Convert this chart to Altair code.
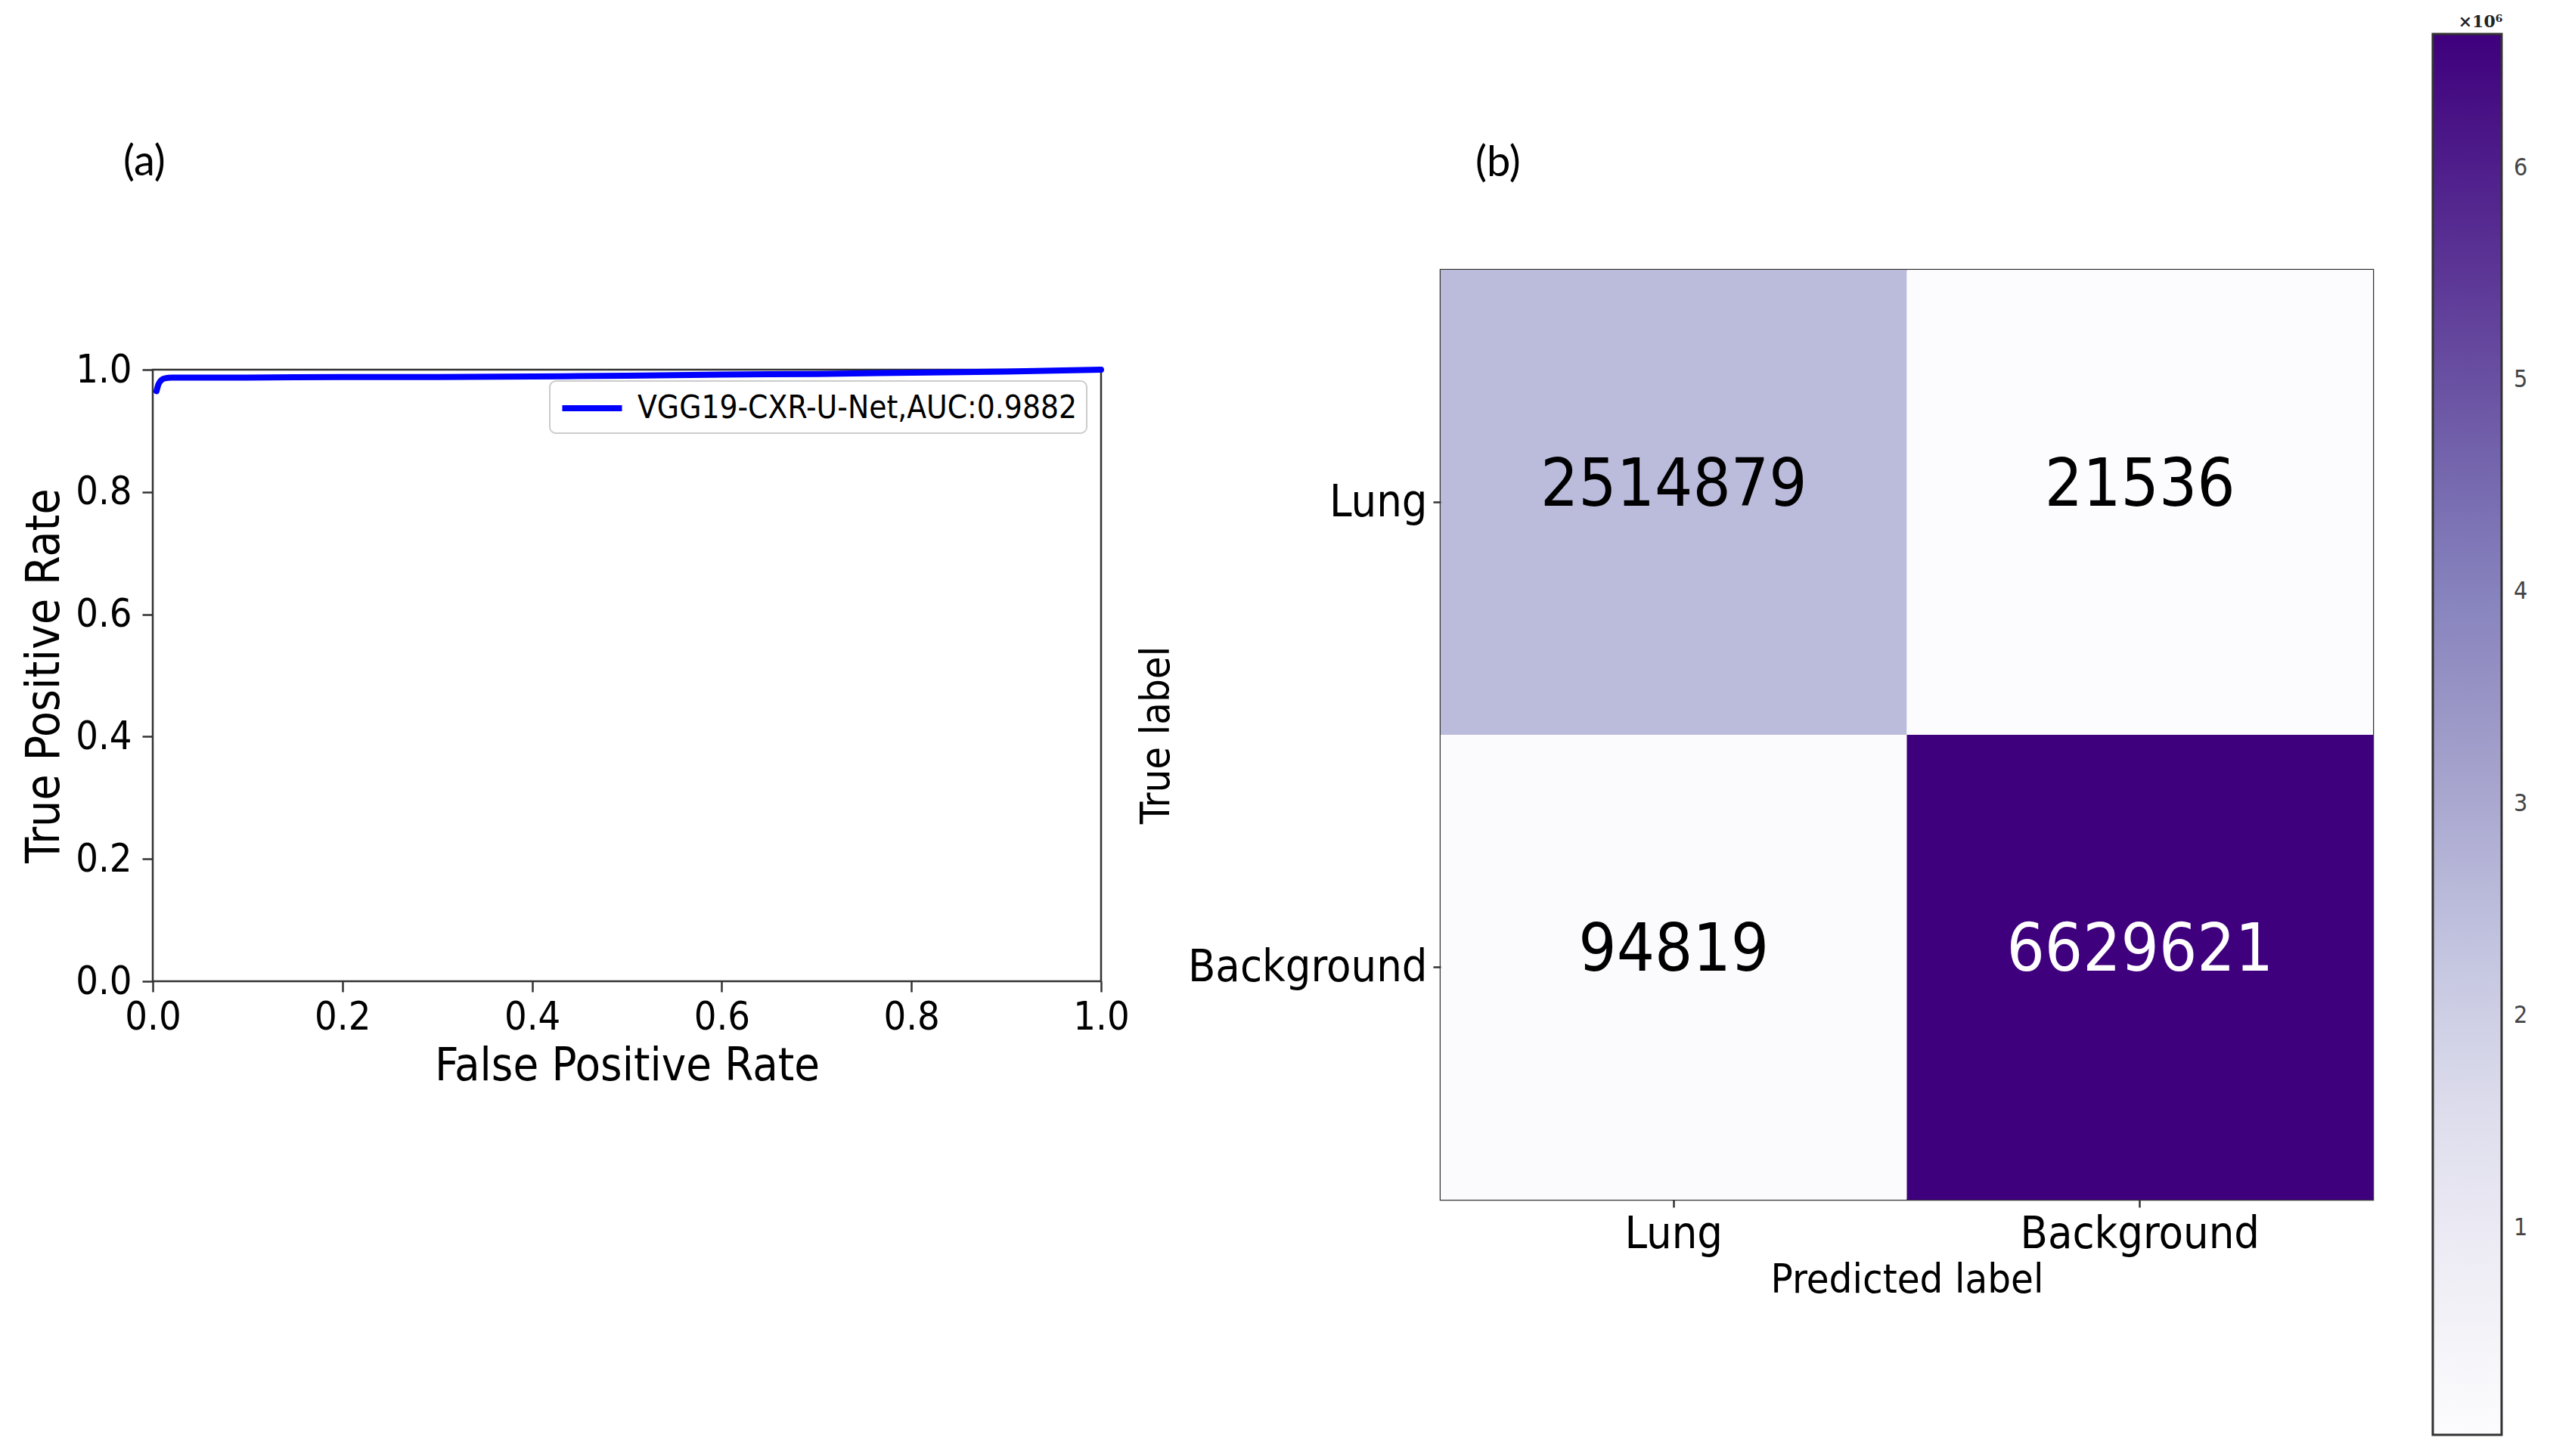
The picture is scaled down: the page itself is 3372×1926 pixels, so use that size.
import altair as alt
import pandas as pd

# ---------------- (a) ROC curve ----------------
fpr = [0.004, 0.006, 0.009, 0.013, 0.02, 0.1, 0.2, 0.3, 0.4, 0.5, 0.6, 0.7, 0.8, 0.9, 1.0]
tpr = [0.965, 0.976, 0.983, 0.986, 0.987, 0.987, 0.988, 0.988, 0.989, 0.990, 0.992, 0.993, 0.995, 0.997, 1.0]
model_name = "VGG19-CXR-U-Net,AUC:0.9882"
rate_ticks = [0.0, 0.2, 0.4, 0.6, 0.8, 1.0]

# ---------------- (b) confusion matrix ----------------
classes = ["Lung", "Background"]
true_label = ["Lung", "Lung", "Background", "Background"]
pred_label = ["Lung", "Background", "Lung", "Background"]
counts = [2514879, 21536, 94819, 6629621]
colorbar_ticks = [1000000, 2000000, 3000000, 4000000, 5000000, 6000000]
# matplotlib "Purples" colormap stops
purples = ["#fcfbfd", "#efedf5", "#dadaeb", "#bcbddc", "#9e9ac8",
           "#807dba", "#6a51a3", "#54278f", "#3f007d"]

FONT = "DejaVu Sans Condensed, DejaVu Sans"
PANEL_FONT = "Lato"
INK = "#333333"

roc_df = pd.DataFrame({"fpr": fpr, "tpr": tpr, "model": [model_name] * len(fpr)})
cm_df = pd.DataFrame({"true": true_label, "pred": pred_label, "count": counts})
thresh = max(counts) / 2
cmin, cmax = min(counts), max(counts)
n_stops = len(purples)
color_domain = [cmin + (cmax - cmin) * i / (n_stops - 1) for i in range(n_stops)]

ROC_W, ROC_H = 1254, 809
CM_W, CM_H = 1233, 1230
SPACER_H = 103

axis_common = dict(domain=False, grid=False, tickColor=INK, tickWidth=2.5,
                   labelColor="black", titleColor="black", labelFont=FONT,
                   titleFont=FONT, titleFontWeight="normal", labelLimit=0)

spacer = alt.Chart(pd.DataFrame({"v": [0]})).mark_point().encode(
    opacity=alt.value(0)
).properties(
    width=ROC_W, height=SPACER_H,
    view=alt.ViewBackground(stroke="transparent"),
    title=alt.TitleParams("(a)", anchor="start", frame="group", dx=-39, offset=57,
                          fontSize=56, font=PANEL_FONT, fontWeight="normal",
                          color="black", baseline="bottom"),
)

roc = alt.Chart(roc_df).mark_line(strokeWidth=8, interpolate="monotone", strokeCap="round").encode(
    x=alt.X("fpr:Q", scale=alt.Scale(domain=[0, 1], nice=False, zero=False),
            axis=alt.Axis(title="False Positive Rate", values=rate_ticks, format=".1f",
                          labelFlush=False, labelOverlap=False, tickSize=14, labelPadding=8,
                          labelFontSize=52, titleFontSize=61, titlePadding=9, **axis_common)),
    y=alt.Y("tpr:Q", scale=alt.Scale(domain=[0, 1], nice=False, zero=False),
            axis=alt.Axis(title="True Positive Rate", values=rate_ticks, format=".1f",
                          labelFlush=False, labelOverlap=False, tickSize=14, labelPadding=14,
                          labelFontSize=52, titleFontSize=62, titlePadding=9, **axis_common)),
    color=alt.Color("model:N", scale=alt.Scale(range=["#0000ff"]),
                    legend=alt.Legend(title=None, orient="none", legendX=525, legendY=15,
                                      symbolType="M-2,0L2,0", symbolSize=1560, symbolStrokeWidth=8,
                                      symbolOffset=20, labelOffset=36, labelFont=FONT,
                                      labelFontSize=42, labelColor="black", labelLimit=0,
                                      padding=12, strokeColor="#cccccc",
                                      cornerRadius=8, fillColor="white")),
).properties(width=ROC_W, height=ROC_H)

cm_base = alt.Chart(cm_df).encode(
    x=alt.X("pred:N", sort=classes, scale=alt.Scale(paddingInner=0, paddingOuter=0),
            axis=alt.Axis(title="Predicted label", labelAngle=0, tickSize=10, labelPadding=6,
                          labelFontSize=59, titleFontSize=54, titlePadding=4, **axis_common)),
    y=alt.Y("true:N", sort=classes, scale=alt.Scale(paddingInner=0, paddingOuter=0),
            axis=alt.Axis(title="True label", tickSize=10, labelPadding=8,
                          labelFontSize=59, titleFontSize=54, titlePadding=149, **axis_common)),
)

rect = cm_base.mark_rect().encode(
    color=alt.Color("count:Q",
                    scale=alt.Scale(domain=color_domain, range=purples, interpolate="rgb"),
                    legend=alt.Legend(orient="none", legendX=1312, legendY=-338,
                                      direction="vertical", type="gradient",
                                      gradientLength=1853, gradientThickness=91,
                                      gradientStrokeColor=INK, gradientStrokeWidth=3,
                                      values=colorbar_ticks,
                                      labelExpr="'' + (datum.value / 1000000)",
                                      labelFont=FONT, labelFontSize=32, labelColor="#444444",
                                      labelOffset=16, labelOverlap=False,
                                      title="×10⁶", titleFont="DejaVu Serif",
                                      titleFontWeight="bold", titleFontSize=22,
                                      titleAnchor="middle", titlePadding=4,
                                      titleColor="#222222", padding=0))
)

text = cm_base.mark_text(font=FONT, fontSize=88, baseline="middle", dy=-22).encode(
    text=alt.Text("count:Q", format="d"),
    color=alt.condition(alt.datum.count > thresh, alt.value("white"), alt.value("black")),
)

cm = (rect + text).properties(
    width=CM_W, height=CM_H,
    title=alt.TitleParams("(b)", anchor="start", frame="group", dx=46, offset=-282,
                          fontSize=56, font=PANEL_FONT, fontWeight="normal",
                          color="black", baseline="bottom"),
)

left = alt.vconcat(spacer, roc, spacing=0).resolve_scale(color="independent")

chart = alt.hconcat(left, cm, spacing=5).resolve_scale(color="independent").properties(
    padding={"left": 18, "top": 9, "right": 5, "bottom": 5},
    background="white",
).configure_view(stroke=INK, strokeWidth=2.5).configure_legend(strokeWidth=2)

chart.save("out.html", embed_options={"renderer": "svg", "actions": False})
